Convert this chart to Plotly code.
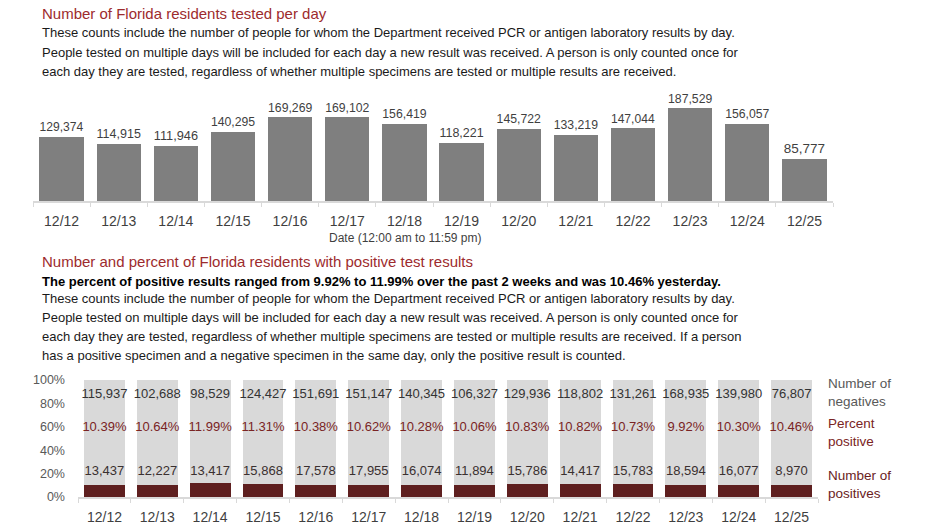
import plotly.graph_objects as go

# ---------------- data ----------------
dates = ["12/12", "12/13", "12/14", "12/15", "12/16", "12/17", "12/18",
         "12/19", "12/20", "12/21", "12/22", "12/23", "12/24", "12/25"]
tested = [129374, 114915, 111946, 140295, 169269, 169102, 156419,
          118221, 145722, 133219, 147044, 187529, 156057, 85777]
negatives = [115937, 102688, 98529, 124427, 151691, 151147, 140345,
             106327, 129936, 118802, 131261, 168935, 139980, 76807]
positives = [13437, 12227, 13417, 15868, 17578, 17955, 16074,
             11894, 15786, 14417, 15783, 18594, 16077, 8970]
pct_positive = [10.39, 10.64, 11.99, 11.31, 10.38, 10.62, 10.28,
                10.06, 10.83, 10.82, 10.73, 9.92, 10.30, 10.46]
pct_ticks = [0, 20, 40, 60, 80, 100]

title1 = "Number of Florida residents tested per day"
body1 = [
    "These counts include the number of people for whom the Department received PCR or antigen laboratory results by day.",
    "People tested on multiple days will be included for each day a new result was received. A person is only counted once for",
    "each day they are tested, regardless of whether multiple specimens are tested or multiple results are received.",
]
xtitle1 = "Date (12:00 am to 11:59 pm)"
title2 = "Number and percent of Florida residents with positive test results"
bold2 = "The percent of positive results ranged from 9.92% to 11.99% over the past 2 weeks and was 10.46% yesterday."
body2 = [
    "These counts include the number of people for whom the Department received PCR or antigen laboratory results by day.",
    "People tested on multiple days will be included for each day a new result was received. A person is only counted once for",
    "each day they are tested, regardless of whether multiple specimens are tested or multiple results are received. If a person",
    "has a positive specimen and a negative specimen in the same day, only the positive result is counted.",
]
legend_labels = ["Number of<br>negatives", "Percent<br>positive", "Number of<br>positives"]

# ---------------- style ----------------
W, H = 932, 524
FONT = "Liberation Sans, Arial, sans-serif"
RED_TITLE = "#9d2b2d"
DARK_BAR = "#5e1f1f"
PCT_COLOR = "#7a2424"
GRAY_BAR = "#7f7f7f"
LIGHT_BAR = "#d9d9d9"
LABEL = "#3f3f3f"
AXIS = "#d9d9d9"
n = len(dates)


def px_x(x):
    return x / W


def px_y(y):
    return 1 - y / H


fig = go.Figure()

# top chart
fig.add_trace(go.Bar(
    x=dates, y=tested, marker=dict(color=GRAY_BAR, line=dict(width=0)),
    text=[f"{v:,}" for v in tested], textposition="outside",
    textfont=dict(family=FONT, size=13.5, color=LABEL),
    cliponaxis=False, xaxis="x", yaxis="y", hoverinfo="skip",
))

# bottom chart (stacked 100%)
fig.add_trace(go.Bar(
    x=dates, y=pct_positive, marker=dict(color=DARK_BAR, line=dict(width=0)),
    xaxis="x2", yaxis="y2", hoverinfo="skip",
))
fig.add_trace(go.Bar(
    x=dates, y=[100 - p for p in pct_positive],
    marker=dict(color=LIGHT_BAR, line=dict(width=0)),
    xaxis="x2", yaxis="y2", hoverinfo="skip",
))
fig.add_trace(go.Scatter(
    x=dates, y=[87] * n, mode="text",
    text=[f"{v:,}" for v in negatives],
    textfont=dict(family=FONT, size=13, color="#333333"),
    xaxis="x2", yaxis="y2", hoverinfo="skip", cliponaxis=False,
))
fig.add_trace(go.Scatter(
    x=dates, y=[59] * n, mode="text",
    text=[f"{p:.2f}%" for p in pct_positive],
    textfont=dict(family=FONT, size=13, color=PCT_COLOR),
    xaxis="x2", yaxis="y2", hoverinfo="skip", cliponaxis=False,
))
fig.add_trace(go.Scatter(
    x=dates, y=[22] * n, mode="text",
    text=[f"{v:,}" for v in positives],
    textfont=dict(family=FONT, size=13, color="#3a3030"),
    xaxis="x2", yaxis="y2", hoverinfo="skip", cliponaxis=False,
))

axis_common = dict(
    type="category", range=[-0.5, n - 0.5], autorange=False,
    showline=True, linecolor=AXIS, linewidth=1.5,
    ticks="outside", tickson="boundaries", ticklen=4, tickcolor=AXIS,
    ticklabelstandoff=7,
    showgrid=False, zeroline=False, automargin=False,
    tickfont=dict(family=FONT, size=14, color=LABEL), fixedrange=True,
)

fig.update_layout(
    width=W, height=H,
    margin=dict(l=0, r=0, t=0, b=0, pad=0, autoexpand=False),
    paper_bgcolor="white", plot_bgcolor="white",
    showlegend=False, barmode="stack", bargap=0.225,
    font=dict(family=FONT, color="#1a1a1a"),
    xaxis=dict(domain=[px_x(33), px_x(833)], anchor="y", **axis_common),
    yaxis=dict(domain=[px_y(201), px_y(88)], range=[0, 228600], anchor="x",
               visible=False, fixedrange=True, automargin=False),
    xaxis2=dict(domain=[px_x(78), px_x(818)], anchor="y2", **axis_common),
    yaxis2=dict(domain=[px_y(497), px_y(380)], range=[0, 100], anchor="x2",
                tickmode="array", tickvals=pct_ticks,
                ticktext=[f"{t}%" for t in pct_ticks],
                tickfont=dict(family=FONT, size=12.5, color="#595959"),
                showgrid=False, zeroline=False, showline=False,
                ticks="", ticklabelstandoff=12, automargin=False,
                fixedrange=True),
)

ann = []


def add_text(txt, x, y, size=13, color="#1a1a1a", anchor="left", bold=False):
    ann.append(dict(
        text=f"<b>{txt}</b>" if bold else txt,
        x=px_x(x), y=px_y(y), xref="paper", yref="paper",
        xanchor=anchor, yanchor="middle", showarrow=False,
        font=dict(family=FONT, size=size, color=color), align="left",
    ))


add_text(title1, 40, 14, size=15, color=RED_TITLE)
for i, line in enumerate(body1):
    add_text(line, 40, 33 + 19 * i)
add_text(xtitle1, 405, 238, size=12, color=LABEL, anchor="center")

add_text(title2, 40, 261, size=15, color=RED_TITLE)
add_text(bold2, 40, 281, bold=True, color="#000000")
for i, line in enumerate(body2):
    add_text(line, 40, 298 + 19.3 * i)

add_text(legend_labels[0], 826, 392, size=13.5, color="#595959")
add_text(legend_labels[1], 826, 432, size=13.5, color=PCT_COLOR)
add_text(legend_labels[2], 826, 484, size=13.5, color="#6b1d1d")

fig.update_layout(annotations=ann)

fig.write_html(
    "out.html",
    config={"displayModeBar": False, "staticPlot": True},
    post_script="document.body.style.margin='0';document.body.style.overflow='hidden';",
)
